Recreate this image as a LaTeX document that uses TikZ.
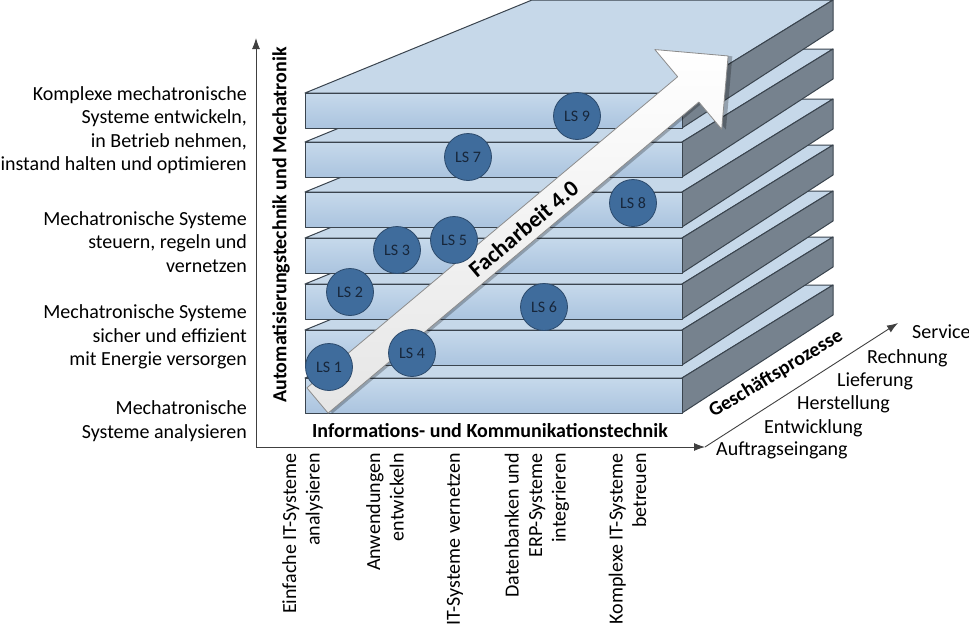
\documentclass[tikz,border=0pt]{standalone}
\usepackage{fontspec}
\setmainfont{Carlito}
\usetikzlibrary{arrows.meta}
\definecolor{slabfront}{HTML}{C6D9EB}
\definecolor{slabfrontdark}{HTML}{ABC4DF}
\definecolor{slabtop}{HTML}{C6D8E9}
\definecolor{slabside}{HTML}{76828E}
\definecolor{slabedge}{HTML}{3A444E}
\definecolor{lsblue}{HTML}{3F6C9C}
\definecolor{lsedge}{HTML}{2C4A6C}
\definecolor{lstext}{HTML}{17263A}
\definecolor{axisgray}{HTML}{404040}

\begin{document}
\begin{tikzpicture}[x=1pt,y=-1pt,
  slab/.style={draw=slabedge,line width=1pt,line join=round},
  lsnode/.style={circle,fill=lsblue,draw=lsedge,line width=0.8pt,minimum size=47pt,inner sep=0pt,
    text=lstext,font=\fontsize{16}{18}\selectfont},
  axis/.style={axisgray,line width=0.9pt,-{Latex[length=11pt,width=8pt]}},
  lbl/.style={inner sep=0pt,font=\fontsize{20}{23.5}\selectfont},
  boldlbl/.style={inner sep=0pt,font=\bfseries\fontsize{20}{23.5}\selectfont}]
\useasboundingbox (0,0) rectangle (969,629);

\foreach \y in {378,330,284,238,192,142,93}{
  \filldraw[slab,fill=slabtop] (305,\y) -- (682,\y) -- (833,\y-93) -- (532,\y-93) -- cycle;
  \filldraw[slab,fill=slabside] (682,\y) -- (833,\y-93) -- (833,\y-63) -- (682,\y+35) -- cycle;
  \shade[slab,top color=slabfront,bottom color=slabfrontdark] (305,\y) rectangle (682,\y+35);
}

\begin{scope}[shift={(317.5,400.5)},rotate=40]
  \fill[black,opacity=0.25] (3,-13.5) -- (487,-13.5) -- (487,-49) -- (539,3) -- (487,55) -- (487,19.5) -- (3,19.5) -- cycle;
  \shade[draw=black!45,line width=0.8pt,line join=round,top color=white,bottom color=black!10]
    (0,-16.5) -- (484,-16.5) -- (484,-52) -- (536,0) -- (484,52) -- (484,16.5) -- (0,16.5) -- cycle;
\end{scope}
\node[rotate=40,inner sep=0pt,font=\bfseries\fontsize{23}{26}\selectfont] (facharbeit) at (523.5,228.5) {Facharbeit 4.0};

\node[lsnode] (ls1) at (329,367) {LS 1};
\node[lsnode] (ls2) at (350,292) {LS 2};
\node[lsnode] (ls3) at (397,250) {LS 3};
\node[lsnode] (ls4) at (412,353) {LS 4};
\node[lsnode] (ls5) at (454,240) {LS 5};
\node[lsnode] (ls6) at (544,307) {LS 6};
\node[lsnode] (ls7) at (468,157) {LS 7};
\node[lsnode] (ls8) at (633,203) {LS 8};
\node[lsnode] (ls9) at (577,116) {LS 9};

\coordinate (origin) at (256,447);
\coordinate (ytip) at (256,38);
\coordinate (xtip) at (705,447);
\coordinate (gtip) at (898,323);
\draw[axis] (origin) -- (ytip);
\draw[axis] (origin) -- (xtip);
\draw[axis] (xtip) -- (gtip);

\node[lbl,align=right,anchor=east] (mech4) at (247,130) {Komplexe mechatronische\\Systeme entwickeln,\\in Betrieb nehmen,\\instand halten und optimieren};
\node[lbl,align=right,anchor=east] (mech3) at (247,242) {Mechatronische Systeme\\steuern, regeln und\\vernetzen};
\node[lbl,align=right,anchor=east] (mech2) at (247,337) {Mechatronische Systeme\\sicher und effizient\\mit Energie versorgen};
\node[lbl,align=right,anchor=east] (mech1) at (247,421) {Mechatronische\\Systeme analysieren};
\node[boldlbl,rotate=90] (autolbl) at (281,225) {Automatisierungstechnik und Mechatronik};

\node[boldlbl] (infolbl) at (490,431) {Informations- und Kommunikationstechnik};
\node[lbl,rotate=90,align=right,anchor=east] (it1) at (302.5,453) {Einfache IT-Systeme\\analysieren};
\node[lbl,rotate=90,align=right,anchor=east] (it2) at (385,453) {Anwendungen\\entwickeln};
\node[lbl,rotate=90,align=right,anchor=east] (it3) at (455,453) {IT-Systeme vernetzen};
\node[lbl,rotate=90,align=right,anchor=east] (it4) at (537,453) {Datenbanken und\\ERP-Systeme\\integrieren};
\node[lbl,rotate=90,align=right,anchor=east] (it5) at (627.5,453) {Komplexe IT-Systeme\\betreuen};

\node[boldlbl,rotate=31] (gplbl) at (776,374) {Geschäftsprozesse};
\node[lbl,anchor=base west] (gp1) at (716,455) {Auftragseingang};
\node[lbl,anchor=base west] (gp2) at (764,433) {Entwicklung};
\node[lbl,anchor=base west] (gp3) at (797,409) {Herstellung};
\node[lbl,anchor=base west] (gp4) at (837,386) {Lieferung};
\node[lbl,anchor=base west] (gp5) at (867,363) {Rechnung};
\node[lbl,anchor=base west] (gp6) at (912,338) {Service};
\end{tikzpicture}
\end{document}
